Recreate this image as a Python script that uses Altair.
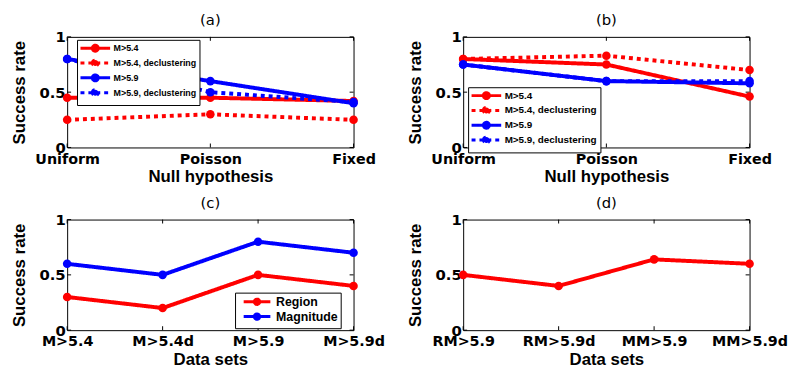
import altair as alt
import pandas as pd

# ---------------- data ----------------
null_hyp = ["Uniform", "Poisson", "Fixed"]
series_ab = ["M>5.4", "M>5.4, declustering", "M>5.9", "M>5.9, declustering"]
a_m54 = [0.45, 0.45, 0.42]
a_m54d = [0.25, 0.30, 0.25]
a_m59 = [0.80, 0.60, 0.40]
a_m59d = [0.80, 0.50, 0.41]
b_m54 = [0.80, 0.75, 0.46]
b_m54d = [0.80, 0.83, 0.70]
b_m59 = [0.75, 0.60, 0.58]
b_m59d = [0.75, 0.60, 0.60]
data_sets_c = ["M>5.4", "M>5.4d", "M>5.9", "M>5.9d"]
series_c = ["Region", "Magnitude"]
c_region = [0.30, 0.20, 0.50, 0.40]
c_magnitude = [0.60, 0.50, 0.80, 0.70]
data_sets_d = ["RM>5.9", "RM>5.9d", "MM>5.9", "MM>5.9d"]
series_d = ["Region"]
d_values = [0.50, 0.40, 0.64, 0.60]
y_ticks = [0, 0.5, 1]

W, H = 290, 112
TICK_FONT = "DejaVu Sans"
TITLE_FONT = "Liberation Sans"
RED, BLUE = "#ff0000", "#0000ff"
SOLID, DOT = [1, 0], [4, 4]
SYM = "M-3.75,0L3.75,0M-0.75,0A0.75,0.75,0,1,1,0.75,0A0.75,0.75,0,1,1,-0.75,0Z"


def long_df(cats, series, values):
    rows = []
    for s, vals in zip(series, values):
        for c, v in zip(cats, vals):
            rows.append({"cat": c, "series": s, "val": v})
    return pd.DataFrame(rows)


def panel(df, cats, title, xtitle, series, colors, dashes, legend):
    xenc = alt.X("cat:N", sort=cats,
                 scale=alt.Scale(type="point", domain=cats, padding=0),
                 axis=alt.Axis(title=xtitle, labelAngle=0, ticks=False, domain=False,
                               grid=False, labelPadding=5, titlePadding=3))
    yenc = alt.Y("val:Q", scale=alt.Scale(domain=[0, 1], nice=False, zero=True),
                 axis=alt.Axis(title="Success rate", values=y_ticks, format="~g",
                               ticks=False, domain=False, grid=False,
                               labelPadding=2, titlePadding=11, labelFontSize=15))
    cscale = alt.Scale(domain=series, range=colors)
    dscale = alt.Scale(domain=series, range=dashes)
    if legend is None:
        leg = None
    else:
        leg = alt.Legend(title=None, orient="none", legendX=legend["x"], legendY=legend["y"],
                         strokeColor="black", fillColor="white", padding=3,
                         labelFont=TITLE_FONT, labelFontWeight="bold",
                         labelFontSize=legend["fs"], labelColor="black",
                         symbolType=SYM, symbolSize=legend["size"],
                         symbolStrokeWidth=3, rowPadding=legend["row"],
                         symbolOffset=legend["soff"], labelOffset=legend["loff"],
                         cornerRadius=0)
    base = alt.Chart(df)
    line = base.mark_line(strokeWidth=4).encode(
        x=xenc, y=yenc,
        color=alt.Color("series:N", scale=cscale, legend=leg, sort=series),
        strokeDash=alt.StrokeDash("series:N", scale=dscale, legend=leg, sort=series),
    )
    pts = base.mark_circle(size=75, opacity=1).encode(
        x=xenc, y=yenc,
        color=alt.Color("series:N", scale=cscale, legend=leg, sort=series),
    )
    ydf = pd.DataFrame({"val": y_ticks})
    xdf = pd.DataFrame({"cat": cats})
    yl = alt.Chart(ydf).mark_rule(color="black", strokeWidth=1).encode(
        y=yenc, x=alt.value(0), x2=alt.value(4))
    yr = alt.Chart(ydf).mark_rule(color="black", strokeWidth=1).encode(
        y=yenc, x=alt.value(W - 4), x2=alt.value(W))
    xb = alt.Chart(xdf).mark_rule(color="black", strokeWidth=1).encode(
        x=xenc, y=alt.value(H - 4), y2=alt.value(H))
    xt = alt.Chart(xdf).mark_rule(color="black", strokeWidth=1).encode(
        x=xenc, y=alt.value(0), y2=alt.value(4))
    return alt.layer(yl, yr, xb, xt, line, pts).properties(
        width=W, height=H, title=title)


df_a = long_df(null_hyp, series_ab, [a_m54, a_m54d, a_m59, a_m59d])
df_b = long_df(null_hyp, series_ab, [b_m54, b_m54d, b_m59, b_m59d])
df_c = long_df(data_sets_c, series_c, [c_region, c_magnitude])
df_d = long_df(data_sets_d, series_d, [d_values])

pa = panel(df_a, null_hyp, "(a)", "Null hypothesis", series_ab,
           [RED, RED, BLUE, BLUE], [SOLID, DOT, SOLID, DOT],
           {"x": 10, "y": 3, "fs": 9, "size": 64, "row": -12, "soff": 10, "loff": 13})
pb = panel(df_b, null_hyp, "(b)", "Null hypothesis", series_ab,
           [RED, RED, BLUE, BLUE], [SOLID, DOT, SOLID, DOT],
           {"x": 5, "y": 51, "fs": 10, "size": 64, "row": -10, "soff": 10, "loff": 13})
pc = panel(df_c, data_sets_c, "(c)", "Data sets", series_c,
           [RED, BLUE], [SOLID, SOLID],
           {"x": 170, "y": 74, "fs": 12.5, "size": 52, "row": -4, "soff": 13, "loff": 13})
pd_ = panel(df_d, data_sets_d, "(d)", "Data sets", series_d,
            [RED], [SOLID], None)

chart = alt.concat(
    pa, pb, pc, pd_, columns=2, spacing={"row": 73, "column": 111}, bounds="flush"
).resolve_scale(
    color="independent", strokeDash="independent", x="independent", y="independent"
).properties(
    padding={"left": 9, "top": 10, "right": 5, "bottom": 0},
    background="white",
).configure_view(
    stroke="black", strokeWidth=1
).configure_axis(
    labelFont=TICK_FONT, labelFontWeight="bold", labelFontSize=14.5, labelColor="black",
    titleFont=TITLE_FONT, titleFontWeight="bold", titleFontSize=17, titleColor="black",
).configure_title(
    font=TICK_FONT, fontSize=15, fontWeight="normal", color="black", offset=2
)

chart.save("out.html", embed_options={"renderer": "svg", "actions": False})
